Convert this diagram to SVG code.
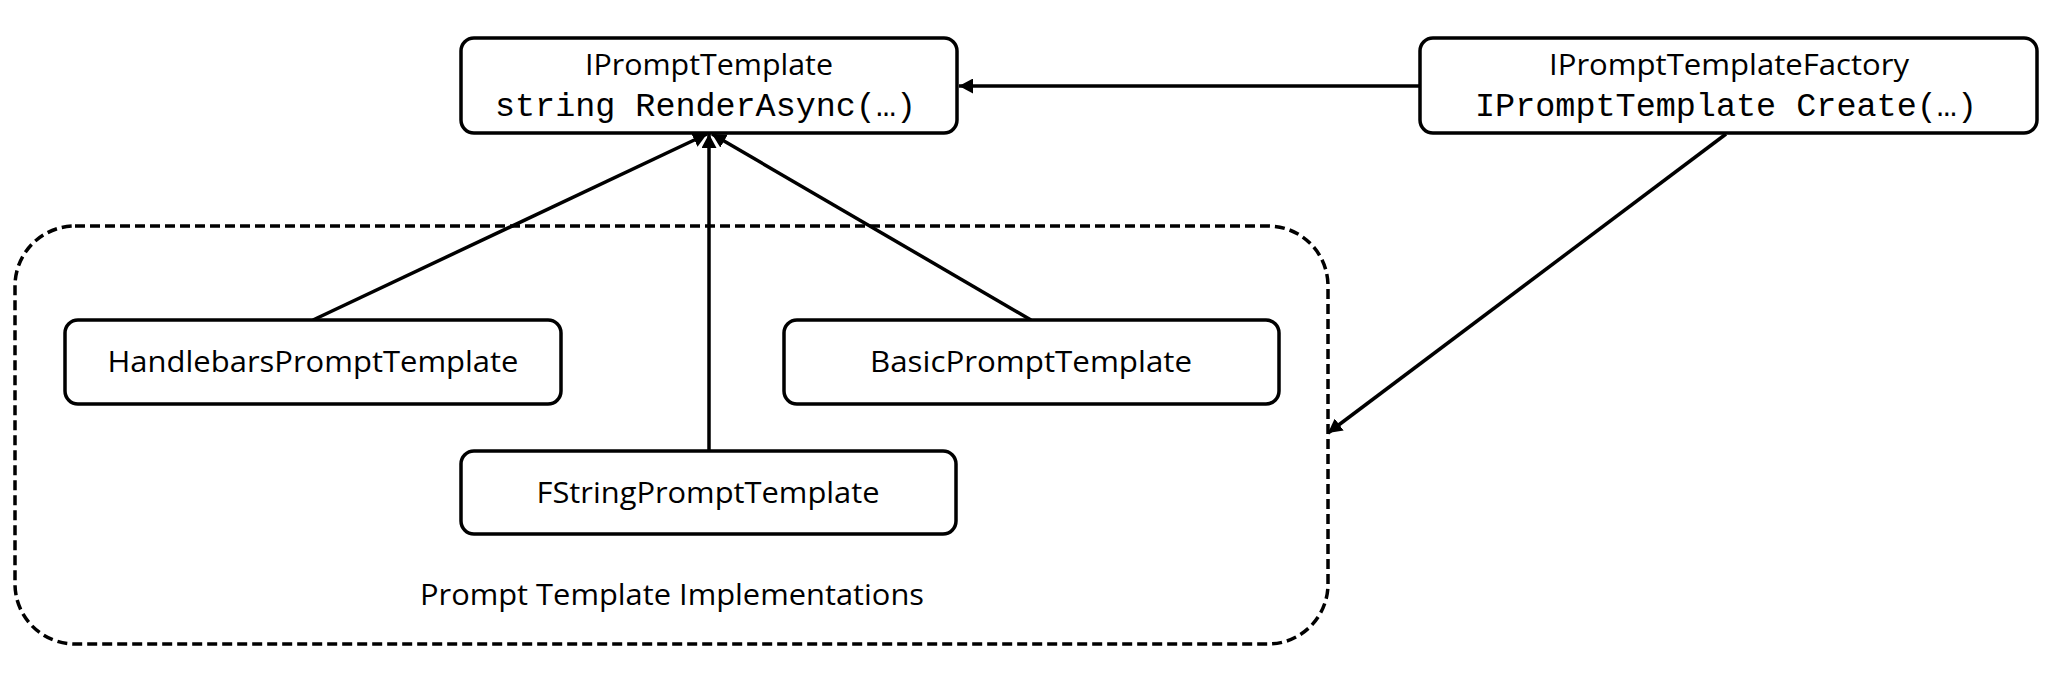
<svg xmlns="http://www.w3.org/2000/svg" width="2045" height="681" viewBox="0 0 2045 681">
<style>
.node{fill:#fff;stroke:#000;stroke-width:3.5}
.lbl{font-family:"Open Sans","Liberation Sans",sans-serif;font-size:30px;fill:#000;text-anchor:middle}
.mono{font-family:"Liberation Mono","DejaVu Sans Mono",monospace;font-size:33px;fill:#000;text-anchor:middle}
.edge{fill:none;stroke:#000;stroke-width:3.5}
.group{fill:none;stroke:#000;stroke-width:3.5;stroke-dasharray:10 5}
</style>
<defs>
<marker id="arr" viewBox="0 0 14 15" refX="14" refY="7.5" markerWidth="14" markerHeight="15" markerUnits="userSpaceOnUse" orient="auto">
<path d="M0,0 L14,7.5 L0,15 Z" fill="#000"/>
</marker>
</defs>
<rect width="2045" height="681" fill="#fff"/>
<g id="group-impl">
<rect class="group" x="15" y="226" width="1313" height="418" rx="60" ry="60"/>
<text class="lbl" x="672" y="605" textLength="504" lengthAdjust="spacingAndGlyphs">Prompt Template Implementations</text>
</g>
<g id="connectors">
<line class="edge" x1="1420" y1="86" x2="959" y2="86" marker-end="url(#arr)"/>
<line class="edge" x1="313" y1="320" x2="707" y2="134" marker-end="url(#arr)"/>
<line class="edge" x1="709" y1="451" x2="709" y2="134" marker-end="url(#arr)"/>
<line class="edge" x1="1031" y1="320" x2="712" y2="134" marker-end="url(#arr)"/>
<line class="edge" x1="1726" y1="134" x2="1328" y2="433" marker-end="url(#arr)"/>
</g>
<g id="node-iprompttemplate">
<rect class="node" x="461" y="38" width="496" height="95" rx="13"/>
<text class="lbl" x="709" y="75" textLength="248" lengthAdjust="spacingAndGlyphs">IPromptTemplate</text>
<text class="mono" x="705.5" y="116" textLength="421" lengthAdjust="spacingAndGlyphs">string RenderAsync(…)</text>
</g>
<g id="node-factory">
<rect class="node" x="1420" y="38" width="617" height="95" rx="13"/>
<text class="lbl" x="1729" y="75" textLength="360" lengthAdjust="spacingAndGlyphs">IPromptTemplateFactory</text>
<text class="mono" x="1726" y="116" textLength="502" lengthAdjust="spacingAndGlyphs">IPromptTemplate Create(…)</text>
</g>
<g id="node-handlebars">
<rect class="node" x="65" y="320" width="496" height="84" rx="13"/>
<text class="lbl" x="313" y="372" textLength="411" lengthAdjust="spacingAndGlyphs">HandlebarsPromptTemplate</text>
</g>
<g id="node-basic">
<rect class="node" x="784" y="320" width="495" height="84" rx="13"/>
<text class="lbl" x="1031" y="372" textLength="322" lengthAdjust="spacingAndGlyphs">BasicPromptTemplate</text>
</g>
<g id="node-fstring">
<rect class="node" x="461" y="451" width="495" height="83" rx="13"/>
<text class="lbl" x="708" y="503" textLength="343" lengthAdjust="spacingAndGlyphs">FStringPromptTemplate</text>
</g>
</svg>
